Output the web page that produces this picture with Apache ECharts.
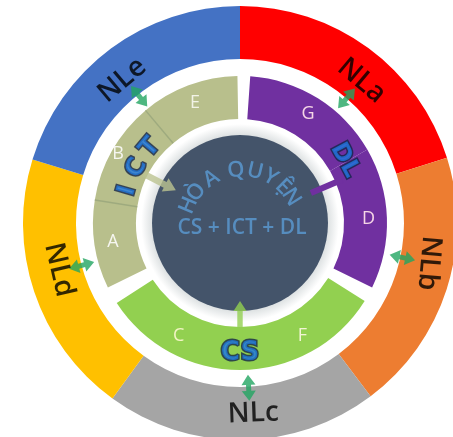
<!DOCTYPE html>
<html><head><meta charset="utf-8">
<script src="https://cdn.jsdelivr.net/npm/echarts@6/dist/echarts.min.js"></script>
<style>html,body{margin:0;padding:0;background:#fff}#c{width:453px;height:437px}</style>
</head><body><div id="c"></div>
<script>
// ---------- data ----------
const outerNames = ['NLa', 'NLb', 'NLc', 'NLd', 'NLe'];
const outerSpans = [72.5, 70.5, 73, 71, 73];          // degrees, clockwise from top
const oliveNames = ['A', 'B', 'E'];
const oliveSpans = [35, 41, 39];
const purpleNames = ['G', 'D'];
const purpleSpans = [56, 56];
const greenNames = ['F', 'C'];
const greenSpans = [58, 57];
const centerTitle = 'HÒA QUYỆN';
const centerFormula = 'CS + ICT + DL';
const ictText = 'ICT';
const dlText = 'DL';
const csText = 'CS';

// ---------- layout & style ----------
const CENTER = [240, 223];
const R_OUT = [164, 217], R_MID = [104, 147], R_HALO = [0, 102], R_CORE = 88;
const GROUP = {
  olive:  {start: 206, end: 91,   color: '#b8bf8c', names: oliveNames,  spans: oliveSpans,  text: ['#f6f6f0', '#f6f6f0', '#f2f3e6']},
  purple: {start: 86,  end: -26,  color: '#7030a0', names: purpleNames, spans: purpleSpans, text: ['#f6d6e6', '#f6d6e6']},
  green:  {start: -32, end: -147, color: '#92d050', names: greenNames,  spans: greenSpans,  text: ['#f2f4d4', '#f2f4c4']}
};
const outerColors = ['#ff0000', '#ed7d31', '#a5a5a5', '#ffc000', '#4472c4'];
const outerLabelPos = [[187, 49.5, -40], [193, 348, -95], [191, 274, 2], [187, 194.5, -77], [185, 129.5, 40]];
const arrowPos = [[164, 49.5], [166, 348], [165, 273], [164, 195], [162, 128.5]];
const titleAngles = [157, 142, 122, 96, 77, 60.5, 45, 32];
const ictAngles = [164, 152, 140];
const labelNudge = {olive: {1: [-10, -6]}};

const norm = a => ((a % 360) + 360) % 360;
const pt = (r, a) => [r, norm(a)];
const hidden = {color: 'rgba(0,0,0,0)'};
const fancy = {color: '#1f78e0', textBorderColor: '#14254a', textBorderWidth: 3, fontWeight: 'bold', fontFamily: 'DejaVu Sans'};

const series = [];

// halo + core
series.push({type: 'pie', center: CENTER, radius: R_HALO, silent: true, z: 1, label: {show: false}, labelLine: {show: false},
  data: [{value: 1, itemStyle: {color: {type: 'radial', x: 0.5, y: 0.5, r: 0.5, colorStops: [
    {offset: 0, color: '#d9dddf'}, {offset: 0.86, color: '#dde1e2'}, {offset: 0.97, color: '#ffffff'}, {offset: 1, color: '#ffffff'}]}}}]});
series.push({type: 'pie', center: CENTER, radius: [0, R_CORE], silent: true, z: 2, label: {show: false}, labelLine: {show: false},
  data: [{value: 1, itemStyle: {color: '#44546a'}}]});

// outer ring
series.push({type: 'pie', center: CENTER, radius: R_OUT, startAngle: 90, silent: true, z: 2,
  label: {show: false}, labelLine: {show: false},
  data: outerNames.map((n, i) => ({name: n, value: outerSpans[i], itemStyle: {color: outerColors[i]}}))});

// middle ring groups
Object.keys(GROUP).forEach(k => {
  const g = GROUP[k];
  const nudge = labelNudge[k] || {};
  series.push({type: 'pie', center: CENTER, radius: R_MID, startAngle: g.start, endAngle: g.end, clockwise: true,
    silent: true, z: 2, labelLine: {show: false},
    label: {show: true, position: 'inside', formatter: '{b}', fontSize: 18, fontFamily: 'Open Sans'},
    labelLayout: p => (nudge[p.dataIndex] ? {dx: nudge[p.dataIndex][0], dy: nudge[p.dataIndex][1]} : {}),
    data: g.names.map((n, i) => ({name: n, value: g.spans[i], itemStyle: {color: g.color}, label: {color: g.text[i]}}))});
});

// faint dividers inside olive group
(function () {
  const g = GROUP.olive;
  const total = g.spans.reduce((a, b) => a + b, 0);
  const scale = (g.start - g.end) / total;
  let a = g.start;
  for (let i = 0; i < g.spans.length - 1; i++) {
    a -= g.spans[i] * scale;
    series.push({type: 'line', coordinateSystem: 'polar', polarIndex: 0, z: 5, silent: true, symbol: 'none',
      lineStyle: {color: '#9eaa7e', width: 1.5}, data: [pt(R_MID[0], a), pt(R_MID[1], a)]});
  }
})();

// DL bar
series.push({type: 'line', coordinateSystem: 'polar', polarIndex: 0, z: 6, silent: true, symbol: 'none',
  lineStyle: {color: '#7030a0', width: 6}, data: [pt(77, 23), pt(111, 23)]});

// ICT arrow & CS arrow
series.push({type: 'scatter', coordinateSystem: 'polar', polarIndex: 0, z: 6, silent: true,
  symbol: 'path://M7,0L14,12L10,12L10,36L4,36L4,12L0,12Z', symbolSize: [15, 36], symbolRotate: 153 + 90,
  itemStyle: {color: '#bcc391'}, data: [pt(90, 153)]});
series.push({type: 'scatter', coordinateSystem: 'polar', polarIndex: 0, z: 6, silent: true,
  symbol: 'path://M6,0L12,10L8.5,10L8.5,52L3.5,52L3.5,10L0,10Z', symbolSize: [13, 52], symbolRotate: 0,
  itemStyle: {color: '#92d050'}, data: [pt(104, 270)]});

// green double arrows
series.push({type: 'scatter', coordinateSystem: 'polar', polarIndex: 0, z: 8, silent: true,
  symbol: 'path://M7,0L14,10L9.5,10L9.5,16L14,16L7,26L0,16L4.5,16L4.5,10L0,10Z', symbolSize: [14, 26],
  itemStyle: {color: '#22a561'},
  data: arrowPos.map(p => ({value: pt(p[0], p[1]), symbolRotate: p[1] - 90}))});

// outer labels
series.push({type: 'scatter', coordinateSystem: 'polar', polarIndex: 0, z: 10, silent: true, symbolSize: 1, itemStyle: hidden,
  label: {show: true, position: 'inside', formatter: '{b}', color: '#000', fontSize: 28, fontWeight: 600, fontFamily: 'Open Sans'},
  data: outerNames.map((n, i) => ({name: n, value: pt(outerLabelPos[i][0], outerLabelPos[i][1]), label: {rotate: outerLabelPos[i][2]}}))});

// ICT / DL / CS tags
series.push({type: 'scatter', coordinateSystem: 'polar', polarIndex: 0, z: 11, silent: true, symbolSize: 1, itemStyle: hidden,
  label: Object.assign({show: true, position: 'inside', formatter: '{b}', fontSize: 25}, fancy),
  data: Array.from(ictText).map((ch, i) => ({name: ch, value: pt(117, ictAngles[i]), label: {rotate: ictAngles[i] - 90}}))
    .concat([{name: dlText, value: pt(122, 31), label: {rotate: -62, fontSize: 24}},
             {name: csText, value: pt(130, 270), label: {rotate: 0, fontSize: 26}}])});

// centre texts
series.push({type: 'scatter', coordinateSystem: 'polar', polarIndex: 1, z: 11, silent: true, symbolSize: 1, itemStyle: hidden,
  label: {show: true, position: 'inside', formatter: '{b}', color: '#5b9bd5', fontSize: 22, fontWeight: 600, fontFamily: 'Open Sans'},
  data: Array.from(centerTitle).filter(ch => ch !== ' ').map((ch, i) => ({name: ch, value: pt(58, titleAngles[i]), label: {rotate: titleAngles[i] - 90}}))
    .concat([{name: centerFormula, value: pt(0, 0), label: {rotate: 0, fontSize: 21}}])});

const axisOff = {show: false, axisLine: {show: false}, axisTick: {show: false}, axisLabel: {show: false}, splitLine: {show: false}};
const chart = echarts.init(document.getElementById('c'));
chart.setOption({
  animation: false,
  backgroundColor: '#ffffff',
  polar: [{center: CENTER, radius: R_OUT[1]}, {center: [242, 228], radius: 100}],
  angleAxis: [Object.assign({polarIndex: 0, type: 'value', min: 0, max: 360, startAngle: 0, clockwise: false}, axisOff),
              Object.assign({polarIndex: 1, type: 'value', min: 0, max: 360, startAngle: 0, clockwise: false}, axisOff)],
  radiusAxis: [Object.assign({polarIndex: 0, type: 'value', min: 0, max: R_OUT[1]}, axisOff),
               Object.assign({polarIndex: 1, type: 'value', min: 0, max: 100}, axisOff)],
  series: series
});
</script></body></html>
